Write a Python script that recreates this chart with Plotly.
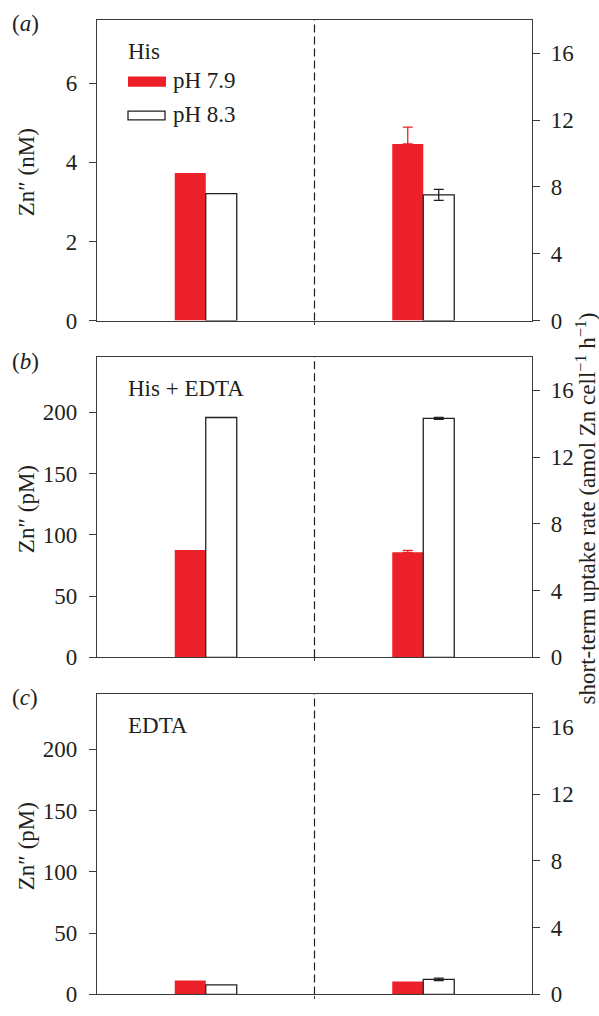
import plotly.graph_objects as go

# ---- data ----
groups_x = [1, 3]  # left group: Zn'' (left axis), right group: uptake rate (right axis)
series_names = ["pH 7.9", "pH 8.3"]

# panel (a) His
a_zn = [3.73, 3.21]            # nM  (pH 7.9, pH 8.3)
a_rate = [10.58, 7.53]         # amol Zn cell-1 h-1
a_rate_err_plus = [1.0, 0.33]
a_rate_err_minus = [0.0, 0.33]

# panel (b) His + EDTA
b_zn = [87.5, 195.7]           # pM
b_rate = [6.29, 14.33]
b_rate_err_plus = [0.12, 0.06]
b_rate_err_minus = [0.0, 0.06]

# panel (c) EDTA
c_zn = [11.3, 7.7]             # pM
c_rate = [0.78, 0.90]
c_rate_err_plus = [0.0, 0.07]
c_rate_err_minus = [0.0, 0.07]

panel_labels = ["(<i>a</i>)", "(<i>b</i>)", "(<i>c</i>)"]
panel_titles = ["His", "His + EDTA", "EDTA"]
left_titles = ["Zn\u2033 (nM)", "Zn\u2033 (pM)", "Zn\u2033 (pM)"]
right_title = "short-term uptake rate (amol Zn cell<sup>\u22121</sup> h<sup>\u22121</sup>)"
left_ticks = [[0, 2, 4, 6], [0, 50, 100, 150, 200], [0, 50, 100, 150, 200]]
left_ranges = [[0, 7.6], [0, 245], [0, 245]]
right_ticks = [0, 4, 8, 12, 16]
right_range = [0, 18]

# ---- style ----
RED = "#EC2028"
INK = "#231F20"
AX = "#3a3a3a"
FONT = "Times New Roman, Liberation Serif, Tinos, serif"
W, H = 599, 1016
BW = 0.285
FS = 23

x_dom = [97 / W, 532 / W]
panel_px = [(20.3, 324.7), (361.7, 665.8), (703.0, 1007.3)]
y_doms = [[1 - b / H, 1 - t / H] for t, b in panel_px]

fig = go.Figure()

data = [
    (a_zn, a_rate, a_rate_err_plus, a_rate_err_minus),
    (b_zn, b_rate, b_rate_err_plus, b_rate_err_minus),
    (c_zn, c_rate, c_rate_err_plus, c_rate_err_minus),
]

for p, (zn, rate, ep, em) in enumerate(data):
    xa = "x" if p == 0 else f"x{p+1}"
    yl = "y" if p == 0 else f"y{2*p+1}"
    yr = f"y{2*p+2}"
    for s in range(2):
        color = RED if s == 0 else "white"
        lw = 0 if s == 0 else 1.3
        off = -BW if s == 0 else 0
        fig.add_trace(go.Bar(
            x=[groups_x[0]], y=[zn[s]], xaxis=xa, yaxis=yl,
            width=BW, offset=off, name=series_names[s], showlegend=False,
            marker=dict(color=color, line=dict(color=INK, width=lw)),
        ))
        errc = RED if s == 0 else INK
        err = dict(type="data", symmetric=False, array=[ep[s]],
                   arrayminus=[em[s]], color=errc, thickness=1.3, width=5)
        kw = dict(error_y=err) if (ep[s] > 0 or em[s] > 0) else {}
        fig.add_trace(go.Bar(
            x=[groups_x[1]], y=[rate[s]], xaxis=xa, yaxis=yr,
            width=BW, offset=off, name=series_names[s], showlegend=False,
            marker=dict(color=color, line=dict(color=INK, width=lw)),
            **kw,
        ))

layout = dict(
    width=W, height=H, autosize=False,
    margin=dict(l=0, r=0, t=0, b=0),
    paper_bgcolor="white", plot_bgcolor="white",
    barmode="overlay", showlegend=False,
    font=dict(family=FONT, size=FS, color=INK),
)

shapes = []
annotations = []
for p in range(3):
    xk = "xaxis" if p == 0 else f"xaxis{p+1}"
    ylk = "yaxis" if p == 0 else f"yaxis{2*p+1}"
    yrk = f"yaxis{2*p+2}"
    xa = "x" if p == 0 else f"x{p+1}"
    yl = "y" if p == 0 else f"y{2*p+1}"
    layout[xk] = dict(domain=x_dom, range=[0, 4], anchor=yl, showline=True,
                      linecolor=AX, linewidth=1.3, mirror=True, showgrid=False,
                      zeroline=False, tickvals=[2], ticks="outside", ticklen=3,
                      tickcolor=AX, tickwidth=1.3, showticklabels=False, fixedrange=True)
    layout[ylk] = dict(domain=y_doms[p], range=left_ranges[p], anchor=xa,
                       tickvals=left_ticks[p], ticks="outside", ticklen=7,
                       tickcolor=AX, tickwidth=1.3, showline=True, linecolor=AX,
                       linewidth=1.3, showgrid=False, zeroline=False,
                       ticklabelstandoff=7,
                       tickfont=dict(family=FONT, size=FS, color=INK))
    layout[yrk] = dict(range=right_range, overlaying=yl, side="right", anchor=xa,
                       tickvals=right_ticks, ticks="outside", ticklen=7,
                       tickcolor=AX, tickwidth=1.3, showline=True, linecolor=AX,
                       linewidth=1.3, showgrid=False, zeroline=False,
                       ticklabelstandoff=6,
                       tickfont=dict(family=FONT, size=FS, color=INK))
    shapes.append(dict(type="line", xref=xa, yref=f"{yl} domain", x0=2, x1=2,
                       y0=0, y1=1, line=dict(color=INK, width=1.2, dash="8px,4px")))
    top = panel_px[p][0]
    bot = panel_px[p][1]
    annotations.append(dict(text=panel_labels[p], xref="paper", yref="paper",
                            x=10 / W, y=1 - (top + 4) / H, xanchor="left", yanchor="middle",
                            showarrow=False, font=dict(family=FONT, size=FS, color=INK)))
    annotations.append(dict(text=panel_titles[p], xref="paper", yref="paper",
                            x=126 / W, y=1 - (top + 32) / H, xanchor="left", yanchor="middle",
                            showarrow=False, font=dict(family=FONT, size=FS, color=INK)))
    annotations.append(dict(text=left_titles[p], xref="paper", yref="paper",
                            x=26 / W, y=1 - ((top + bot) / 2 + 2) / H, xanchor="center",
                            yanchor="middle", textangle=-90, showarrow=False,
                            font=dict(family=FONT, size=FS, color=INK)))

# legend (panel a)
shapes.append(dict(type="rect", xref="paper", yref="paper", x0=128 / W, x1=166 / W,
                   y0=1 - 88 / H, y1=1 - 77.5 / H, fillcolor=RED, line=dict(width=0)))
shapes.append(dict(type="rect", xref="paper", yref="paper", x0=128 / W, x1=165 / W,
                   y0=1 - 121.5 / H, y1=1 - 112.5 / H, fillcolor="white",
                   line=dict(color=INK, width=1.3)))
annotations.append(dict(text=series_names[0], xref="paper", yref="paper", x=171 / W,
                        y=1 - 82 / H, xanchor="left", yanchor="middle", showarrow=False,
                        font=dict(family=FONT, size=FS, color=INK)))
annotations.append(dict(text=series_names[1], xref="paper", yref="paper", x=171 / W,
                        y=1 - 115.5 / H, xanchor="left", yanchor="middle", showarrow=False,
                        font=dict(family=FONT, size=FS, color=INK)))
annotations.append(dict(text=right_title, xref="paper", yref="paper", x=586 / W,
                        y=1 - 515 / H, xanchor="center", yanchor="middle", textangle=-90,
                        showarrow=False, font=dict(family=FONT, size=23, color=INK)))

layout["shapes"] = shapes
layout["annotations"] = annotations
fig.update_layout(**layout)
fig.write_html("out.html")
